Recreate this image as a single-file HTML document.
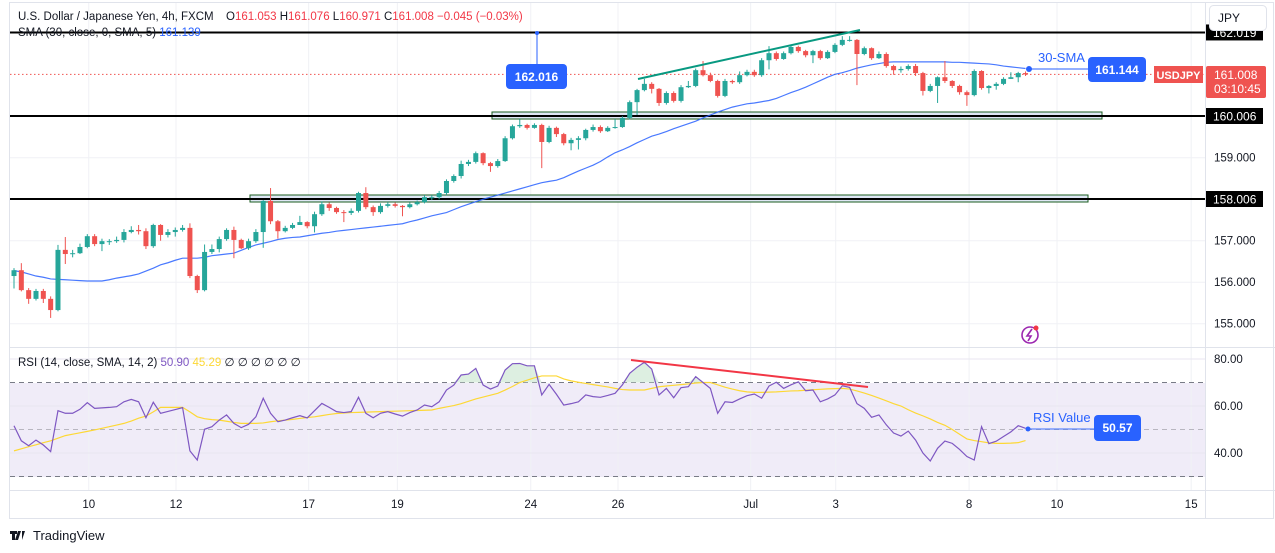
<!DOCTYPE html>
<html><head><meta charset="utf-8"><style>
html,body{margin:0;padding:0;background:#fff;width:1275px;height:553px;overflow:hidden}
svg{display:block;font-family:"Liberation Sans",sans-serif}
</style></head><body>
<svg id="c" width="1275" height="553" viewBox="0 0 1275 553" xmlns="http://www.w3.org/2000/svg">
<rect x="0" y="0" width="1275" height="553" fill="#fff"/>
<rect x="9.5" y="2.5" width="1264" height="516" fill="#fff" stroke="#e0e3eb"/>
<rect x="10" y="383" width="1195" height="94" fill="#f0ecf8"/>
<g id="grid"></g>
<g id="levels"></g>
<g id="main"></g>
<g id="rsi"></g>
<g id="axes"></g>
</svg>
<script>
const closes=[156.29,155.81,155.60,155.79,155.60,155.33,156.78,156.68,156.70,156.85,157.11,156.92,156.99,156.99,157.02,157.21,157.26,157.23,156.87,157.38,157.14,157.21,157.26,157.31,156.15,155.81,156.73,156.80,157.04,
157.26,157.02,156.82,156.99,157.21,157.96,157.47,157.23,157.31,157.38,157.45,157.35,157.64,157.88,157.79,157.69,157.67,157.72,158.15,157.81,157.69,157.84,157.88,157.84,157.81,157.88,157.93,158.05,158.05,158.15,
158.44,158.56,158.85,158.90,159.11,158.87,158.80,158.92,159.47,159.76,159.79,159.72,159.79,159.38,159.72,159.57,159.35,159.43,159.47,159.67,159.74,159.64,159.72,159.74,159.96,160.34,160.63,160.78,160.66,160.32,160.56,160.37,160.70,160.73,161.11,160.99,160.85,160.49,160.85,160.82,160.99,161.07,160.99,
161.35,161.52,161.38,161.52,161.67,161.57,161.47,161.57,161.40,161.55,161.72,161.84,161.84,161.50,161.64,161.40,161.50,161.21,161.11,161.14,161.21,161.04,160.61,160.73,160.94,160.85,160.73,160.58,160.51,161.09,160.68,160.73,160.78,160.90,160.94,161.04,161.01];
const firstOpen=156.15;
const highs=[156.34,156.46,155.86,155.84,155.84,155.66,156.90,157.09,156.78,156.93,157.16,157.16,157.05,157.04,157.10,157.28,157.35,157.38,157.30,157.41,157.40,157.28,157.32,157.38,157.42,156.18,156.91,156.91,157.10,
157.30,157.34,157.05,157.05,157.28,157.98,158.27,157.50,157.36,157.43,157.60,157.47,157.70,157.95,157.92,157.82,157.74,157.78,158.18,158.29,157.85,157.90,157.93,157.92,157.86,157.92,157.97,158.10,158.10,158.20,
158.48,158.60,158.93,158.95,159.15,159.13,158.90,158.97,159.52,159.80,159.93,159.82,159.83,159.82,159.77,159.75,159.60,159.48,159.52,159.70,159.80,159.78,159.76,159.93,160.00,160.38,160.66,160.90,160.82,160.68,160.60,160.60,160.75,160.85,161.15,161.33,161.05,160.88,160.90,160.88,161.08,161.12,161.12,
161.40,161.69,161.56,161.56,161.71,161.70,161.60,161.60,161.60,161.59,161.76,161.93,161.93,161.86,161.68,161.66,161.56,161.54,161.24,161.20,161.25,161.26,161.07,160.78,160.96,161.33,160.87,160.76,160.62,161.13,161.11,160.75,160.82,160.94,161.06,161.07,161.08];
const lows=[155.85,155.78,155.48,155.56,155.50,155.14,155.30,156.44,156.60,156.68,156.82,156.87,156.75,156.90,156.95,156.96,157.18,157.15,156.80,156.83,157.00,157.08,157.10,157.22,156.10,155.74,155.78,156.68,156.72,
157.00,156.58,156.80,156.78,156.95,156.83,157.40,157.05,157.20,157.28,157.38,157.30,157.20,157.60,157.72,157.65,157.45,157.62,157.68,157.76,157.60,157.65,157.80,157.80,157.59,157.78,157.85,157.90,157.98,158.00,
158.10,158.40,158.50,158.80,158.86,158.82,158.66,158.76,158.90,159.44,159.72,159.68,159.70,158.75,159.35,159.50,159.30,159.18,159.20,159.42,159.63,159.60,159.62,159.70,159.72,159.92,160.03,160.60,160.55,160.25,160.28,160.33,160.33,160.68,160.70,160.96,160.82,160.45,160.46,160.78,160.78,160.96,160.95,
160.95,161.13,161.34,161.36,161.49,161.53,161.42,161.28,161.36,161.38,161.52,161.69,161.80,160.75,161.47,161.36,161.38,161.17,161.00,161.05,161.10,160.97,160.50,160.58,160.32,160.80,160.68,160.52,160.25,160.48,160.64,160.55,160.64,160.75,160.90,160.82,160.97];
const sma30=[156.28,156.25,156.20,156.15,156.12,156.08,156.07,156.06,156.05,156.04,156.03,156.03,156.03,156.06,156.10,156.13,156.16,156.20,156.27,156.34,156.42,156.47,156.53,156.58,156.58,156.58,156.60,156.64,156.66,156.68,156.70,156.77,156.84,156.90,156.94,156.98,157.03,157.06,157.08,157.09,157.12,157.15,157.18,157.20,157.23,157.25,157.27,157.29,157.31,157.33,157.35,157.37,157.39,157.41,157.46,157.50,157.55,157.60,157.64,157.68,157.75,157.82,157.88,157.94,158.00,158.05,158.10,158.15,158.20,158.25,158.30,158.35,158.40,158.43,158.46,158.52,158.60,158.68,158.75,158.82,158.91,159.02,159.12,159.19,159.27,159.36,159.44,159.52,159.57,159.63,159.70,159.76,159.82,159.88,159.96,160.03,160.10,160.16,160.22,160.26,160.30,160.32,160.35,160.38,160.43,160.50,160.57,160.63,160.70,160.78,160.86,160.94,161.01,161.05,161.10,161.16,161.20,161.24,161.27,161.30,161.31,161.31,161.31,161.31,161.31,161.31,161.31,161.31,161.30,161.30,161.29,161.28,161.27,161.26,161.24,161.21,161.19,161.17,161.15];
const rsiVals=[51.6,45.2,43.1,45.5,43.4,40.6,58.0,56.9,56.9,58.6,61.4,59.0,59.2,59.4,59.7,61.8,62.8,61.8,55.0,61.6,56.9,57.7,58.5,59.3,40.9,37.0,50.1,51.2,54.0,56.2,52.6,50.8,52.2,55.4,63.3,56.9,53.3,54.0,55.0,55.9,54.9,58.0,61.1,59.4,57.6,57.2,57.6,63.7,56.9,55.0,56.9,57.6,56.6,55.7,57.2,58.3,60.4,59.7,61.8,66.8,68.9,73.2,73.6,76.0,68.9,67.2,68.5,75.3,78.0,78.1,77.1,77.1,64.7,69.2,65.0,60.4,61.0,61.8,64.7,64.0,63.7,64.5,65.4,69.0,73.9,76.5,78.6,75.7,64.7,67.5,63.5,67.8,68.2,72.5,70.0,67.5,56.9,61.8,61.5,63.0,64.4,65.1,63.3,68.5,70.1,67.5,69.0,70.3,66.5,66.8,61.8,63.0,64.7,68.6,67.9,61.0,59.0,55.2,56.2,52.0,48.5,47.2,49.3,45.5,40.0,36.6,42.0,45.1,44.1,41.5,38.5,37.0,51.2,44.0,45.0,47.0,49.0,51.6,50.5];
const rsiMA=[40.9,41.8,42.7,43.5,44.4,45.2,46.3,47.4,48.0,48.6,49.2,49.8,50.5,51.2,51.9,52.6,53.6,54.8,55.7,57.5,59.4,59.4,59.4,59.4,57.5,55.4,54.6,54.2,54.0,53.5,53.0,52.6,52.6,52.6,52.8,53.3,53.7,54.0,54.3,54.7,55.1,55.4,55.9,56.4,56.8,57.0,57.2,57.3,57.4,57.5,57.6,57.7,57.8,57.9,58.0,58.1,58.2,58.3,59.0,59.6,60.2,61.0,62.0,63.0,63.8,64.6,65.4,66.8,68.3,70.0,71.0,72.0,72.8,72.8,72.8,71.5,70.7,70.1,69.6,69.1,68.6,68.1,67.5,67.0,66.8,66.8,66.8,67.5,68.2,68.5,68.8,69.1,69.4,69.8,70.0,70.0,69.0,68.0,67.2,66.5,66.0,65.8,65.8,65.9,66.0,66.2,66.4,66.5,66.7,66.9,67.1,67.3,67.4,67.5,67.2,66.4,65.5,64.5,63.4,62.2,61.0,60.0,58.4,57.0,55.8,54.5,53.0,51.8,50.0,48.0,46.0,45.3,44.8,44.3,44.1,44.1,44.2,44.4,45.3];
const priceTicks=[159,157,156,155];
const levelPrices=[162.019,160.006,158.006];
const rsiTicks=[80,60,40];
const dateLabels=["10","12","17","19","24","26","Jul","3","8","10","15"];
const dateBars=[10.2,22.1,40.2,52.3,70.5,82.4,100.5,112.1,130.3,142.3,160.6];

const NS="http://www.w3.org/2000/svg";
function el(tag,attrs,parent,text){const e=document.createElementNS(NS,tag);for(const k in attrs)e.setAttribute(k,attrs[k]);if(text!==undefined)e.textContent=text;parent.appendChild(e);return e;}
const xs=i=>14+i*7.33;
const ys=p=>116-(p-160.006)*41.5;
const yr=v=>359+(80-v)*2.35;
const G=id=>document.getElementById(id);

// grid
const grid=G('grid');
dateBars.forEach(b=>{const l=el('line',{x1:xs(b),x2:xs(b),y1:3,y2:490,stroke:'#f0f1f5'},grid);

});
priceTicks.concat([160,158]).forEach(p=>{const l=el('line',{x1:10,x2:1205,y1:ys(p),y2:ys(p),stroke:'#f0f1f5'},grid);

});
[80,60,40].forEach(v=>{const l=el('line',{x1:10,x2:1205,y1:yr(v),y2:yr(v),stroke:'#e8e6f0'},grid);

});

// zones + levels
const lv=G('levels');
let z1=el('rect',{x:492,y:ys(160.006)-4,width:610,height:7,fill:'#dfe7f5',stroke:'#1b5e20','stroke-width':1},lv);


let z2=el('rect',{x:250,y:ys(158.006)-4,width:838,height:7,fill:'#dfe7f5',stroke:'#1b5e20','stroke-width':1},lv);


levelPrices.forEach(p=>{const l=el('line',{x1:10,x2:1205,y1:ys(p),y2:ys(p),stroke:'#000','stroke-width':2},lv);

});

// main pane
const m=G('main');
let dl=el('line',{x1:10,x2:1205,y1:ys(161.008),y2:ys(161.008),stroke:'#f05350','stroke-dasharray':'1.5 2.5'},m);


let sp=el('polyline',{points:sma30.map((v,i)=>xs(i)+','+ys(v)).join(' '),fill:'none',stroke:'#2962ff','stroke-width':1.2,opacity:0.85},m);


closes.forEach((c,i)=>{const o=i?closes[i-1]:firstOpen;const col=c>=o?'#26a69a':'#ef5350';const x=xs(i);
const g=el('g',{},m);


el('line',{x1:x,x2:x,y1:ys(highs[i]),y2:ys(lows[i]),stroke:col,'stroke-width':1},g);
const t=Math.min(ys(o),ys(c)),h=Math.max(1,Math.abs(ys(o)-ys(c)));
el('rect',{x:x-2.5,y:t,width:5,height:h,fill:col},g);});
let tl=el('line',{x1:638,y1:79,x2:860,y2:30,stroke:'#089981','stroke-width':2},m);


// annotations
let al=el('line',{x1:537,x2:537,y1:33,y2:64,stroke:'#2962ff','stroke-width':1},m);


el('circle',{cx:537,cy:33,r:2,fill:'#2962ff'},m);
let ab=el('rect',{x:506,y:64,width:61,height:25,rx:4,fill:'#2962ff'},m);


el('text',{x:536.5,y:81,'text-anchor':'middle',fill:'#fff','font-size':12,'font-weight':'bold'},m,'162.016');
let sl=el('line',{x1:1029,x2:1090,y1:69,y2:69,stroke:'#2962ff','stroke-width':2,opacity:0.5},m);


el('circle',{cx:1029,cy:69,r:3,fill:'#2962ff'},m);
el('text',{x:1038,y:62,fill:'#2962ff','font-size':13},m,'30-SMA');
let sb=el('rect',{x:1088,y:57,width:58,height:25,rx:4,fill:'#2962ff'},m);


el('text',{x:1117,y:74,'text-anchor':'middle',fill:'#fff','font-size':12,'font-weight':'bold'},m,'161.144');
let ul=el('rect',{x:1154,y:66,width:49,height:17,fill:'#ef5350'},m);


el('text',{x:1178.5,y:79,'text-anchor':'middle',fill:'#fff','font-size':11,'font-weight':'bold'},m,'USDJPY');
// lightning icon
const li=el('g',{},m);


el('circle',{cx:1030,cy:335,r:8,fill:'none',stroke:'#9c27b0','stroke-width':1.6},li);
el('path',{d:'M1032 329 L1027 336 L1031 336 L1028 341',fill:'none',stroke:'#9c27b0','stroke-width':1.6},li);
el('circle',{cx:1036,cy:328,r:2.5,fill:'#f23645'},li);
// header
el('text',{x:18,y:20,fill:'#131722','font-size':11.5},m,'U.S. Dollar / Japanese Yen, 4h, FXCM');
const hd=el('text',{x:226,y:20,'font-size':11.5,fill:'#131722'},m);


[['O','161.053'],['H','161.076'],['L','160.971'],['C','161.008'],['','−0.045 (−0.03%)']].forEach(([a,b])=>{el('tspan',{fill:'#131722'},hd,a);el('tspan',{fill:'#f23645'},hd,b+'  ');});
const sm=el('text',{x:18,y:36,'font-size':11.5,fill:'#131722'},m,'SMA (30, close, 0, SMA, 5)  ');


el('tspan',{fill:'#2962ff'},sm,'161.139');

// RSI pane
const r=G('rsi');
[70,50,30].forEach(v=>{const l=el('line',{x1:10,x2:1205,y1:yr(v),y2:yr(v),stroke:v==50?'#b8b6c0':'#787b86','stroke-dasharray':'5 4'},r);

});
// overbought fill
let seg=[];
rsiVals.forEach((v,i)=>{if(v>70){seg.push(i);}else if(seg.length){drawOB(seg);seg=[];}});
if(seg.length)drawOB(seg);
function drawOB(s){const a=Math.max(0,s[0]-1),b=Math.min(rsiVals.length-1,s[s.length-1]+1);let pts=[];
for(let i=a;i<=b;i++)pts.push(xs(i)+','+yr(Math.max(70,rsiVals[i])));
const p=el('polygon',{points:xs(a)+','+yr(70)+' '+pts.join(' ')+' '+xs(b)+','+yr(70),fill:'#cfe8d4',opacity:0.7},r);

}
let ma=el('polyline',{points:rsiMA.map((v,i)=>xs(i)+','+yr(v)).join(' '),fill:'none',stroke:'#fdd835','stroke-width':1.2},r);


let rl=el('polyline',{points:rsiVals.map((v,i)=>xs(i)+','+yr(v)).join(' '),fill:'none',stroke:'#7e57c2','stroke-width':1.2},r);


let rt=el('line',{x1:631,y1:360,x2:868,y2:387,stroke:'#f23645','stroke-width':2},r);


let rcl=el('line',{x1:1028,x2:1096,y1:429,y2:429,stroke:'#2962ff','stroke-width':1.5,opacity:0.6},r);


el('circle',{cx:1028,cy:429,r:2.5,fill:'#2962ff'},r);
el('text',{x:1033,y:422,fill:'#2962ff','font-size':13},r,'RSI Value');
let rb=el('rect',{x:1094,y:415,width:47,height:26,rx:4,fill:'#2962ff'},r);


el('text',{x:1117.5,y:432,'text-anchor':'middle',fill:'#fff','font-size':12,'font-weight':'bold'},r,'50.57');
const rh=el('text',{x:18,y:366,'font-size':11.5,fill:'#131722'},r,'RSI (14, close, SMA, 14, 2)  ');


el('tspan',{fill:'#7e57c2'},rh,'50.90  ');
el('tspan',{fill:'#fdd835'},rh,'45.29  ');
el('tspan',{fill:'#131722'},rh,'∅  ∅  ∅  ∅  ∅  ∅');

// axes
const ax=G('axes');
el('line',{x1:1205.5,x2:1205.5,y1:3,y2:518,stroke:'#e0e3eb'},ax);
el('line',{x1:10,x2:1275,y1:347.5,y2:347.5,stroke:'#e0e3eb'},ax);
el('line',{x1:10,x2:1275,y1:490.5,y2:490.5,stroke:'#e0e3eb'},ax);
priceTicks.forEach(p=>{const t=el('text',{x:1214,y:ys(p)+4,'font-size':11.5,fill:'#131722'},ax,p.toFixed(3));

});
levelPrices.forEach(p=>{const b=el('rect',{x:1206,y:ys(p)-8,width:57,height:16,fill:'#000'},ax);


el('text',{x:1213,y:ys(p)+4.5,'font-size':12,fill:'#fff'},ax,p.toFixed(3));});
let pl=el('rect',{x:1206,y:66,width:60,height:32,rx:2,fill:'#ef5350'},ax);


el('text',{x:1214,y:79,'font-size':12,fill:'#fff'},ax,'161.008');
el('text',{x:1214,y:93,'font-size':12,fill:'#fff'},ax,'03:10:45');
let jb=el('rect',{x:1209.5,y:5.5,width:57,height:25,rx:4,fill:'#fff',stroke:'#e0e3eb'},ax);


el('text',{x:1218,y:22,'font-size':12,fill:'#131722'},ax,'JPY');
rsiTicks.forEach(v=>{const t=el('text',{x:1214,y:yr(v)+4,'font-size':11.5,fill:'#131722'},ax,v.toFixed(2));

});
dateLabels.forEach((d,k)=>{const t=el('text',{x:xs(dateBars[k]),y:508,'text-anchor':'middle','font-size':11.5,fill:'#131722'},ax,d);

});
const lg=el('g',{},ax);


el('path',{d:'M10 531h7v3h-2v6h-3v-6h-2zM18 531h3l-3 9h-3z M22 531h3l-3 9',fill:'#131722'},lg);
el('text',{x:33,y:540,'font-size':13,fill:'#131722'},lg,'TradingView');
</script>
</body></html>
